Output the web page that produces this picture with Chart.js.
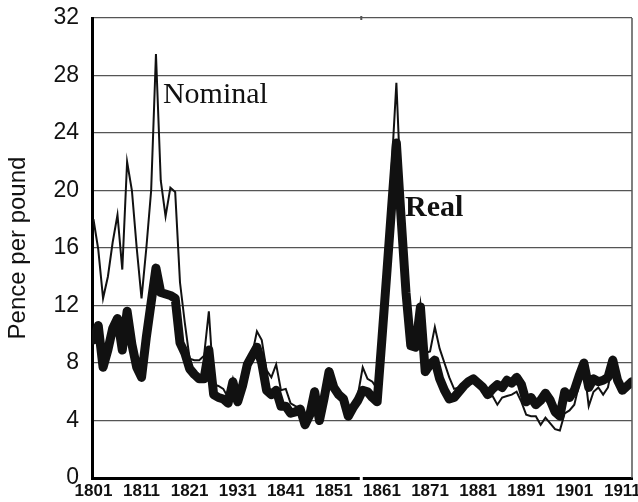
<!DOCTYPE html>
<html>
<head>
<meta charset="utf-8">
<script src="https://cdn.jsdelivr.net/npm/chart.js@4.4.1/dist/chart.umd.min.js"></script>
<style>
  html, body { margin: 0; padding: 0; background: #ffffff; }
  #wrap { width: 638px; height: 502px; position: relative; }
</style>
</head>
<body>
<div id="wrap"><canvas id="c" width="638" height="502"></canvas></div>
<script>
const years = [1801,1802,1803,1804,1805,1806,1807,1808,1809,1810,
1811,1812,1813,1814,1815,1816,1817,1818,1819,1820,
1821,1822,1823,1824,1825,1826,1827,1828,1829,1830,
1831,1832,1833,1834,1835,1836,1837,1838,1839,1840,
1841,1842,1843,1844,1845,1846,1847,1848,1849,1850,
1851,1852,1853,1854,1855,1856,1857,1858,1859,1860,
1861,1862,1863,1864,1865,1866,1867,1868,1869,1870,
1871,1872,1873,1874,1875,1876,1877,1878,1879,1880,
1881,1882,1883,1884,1885,1886,1887,1888,1889,1890,
1891,1892,1893,1894,1895,1896,1897,1898,1899,1900,
1901,1902,1903,1904,1905,1906,1907,1908,1909,1910,
1911,1912,1913];

const realPrice = [9.6,10.6,7.7,8.9,10.4,11.1,8.9,11.6,9.3,7.7,
7.0,9.8,12.2,14.6,12.9,12.8,12.7,12.5,9.4,8.7,
7.6,7.2,6.9,6.9,8.9,5.8,5.6,5.5,5.2,6.7,
5.3,6.4,7.9,8.5,9.1,8.0,6.1,5.8,6.1,5.0,
5.0,4.5,4.6,4.8,3.7,4.4,6.0,4.0,5.6,7.4,
6.3,5.8,5.5,4.3,4.9,5.4,6.1,6.0,5.6,5.3,
9.7,14.2,18.8,23.3,18.0,12.9,9.2,9.1,11.9,7.4,
7.9,8.2,6.9,6.1,5.5,5.6,6.0,6.4,6.7,6.9,
6.6,6.3,5.8,6.2,6.5,6.3,6.8,6.6,7.0,6.5,
5.3,5.6,5.1,5.4,5.9,5.4,4.6,4.3,6.0,5.6,
6.1,7.1,8.0,6.3,6.9,6.7,6.8,7.0,8.2,6.8,
6.1,6.4,6.7];

const nominalPrice = [18.0,15.9,12.5,14.0,16.4,18.3,14.5,22.0,20.0,16.0,
12.5,16.0,20.0,29.5,20.7,18.2,20.2,19.9,13.6,10.8,
8.3,8.2,8.2,8.5,11.6,6.5,6.4,6.2,5.6,6.9,
5.6,6.8,8.3,8.6,10.2,9.6,7.5,7.0,7.9,6.1,
6.2,5.2,5.0,4.9,3.8,4.5,6.0,4.1,5.8,7.4,
6.5,6.0,5.7,4.7,5.0,5.8,7.7,6.9,6.7,6.2,
10.0,15.8,21.5,27.5,19.5,13.5,9.6,9.4,12.1,8.7,
8.8,10.5,9.0,8.0,7.0,6.2,6.3,6.3,6.6,6.9,
6.5,6.2,5.6,5.7,5.1,5.6,5.7,5.8,6.0,5.3,
4.4,4.3,4.3,3.7,4.2,3.8,3.4,3.3,4.5,4.7,
5.1,6.5,7.8,5.0,6.0,6.3,5.8,6.3,8.0,6.6,
6.0,6.3,6.6];

const xTickYears = [1801,1811,1821,1831,1841,1851,1861,1871,1881,1891,1901,1911];
const xTickLabels = ["1801","1811","1821","1931","1841","1851","1861","1871","1881","1891","1901","1911"];
const yTicks = [0,4,8,12,16,20,24,28,32];
const yTitle = "Pence per pound";
const seriesLabels = ["Nominal","Real"];

function pts(vals){ return years.map((y,i)=>({x:y, y:vals[i]})); }

const extras = {
  id: 'extras',
  afterDatasetsDraw(chart){
    const {ctx, chartArea:a, scales:{x, y}} = chart;
    ctx.save();
    // right border
    ctx.strokeStyle = '#555';
    ctx.lineWidth = 1.5;
    ctx.beginPath();
    ctx.moveTo(a.right, a.top);
    ctx.lineTo(a.right, a.bottom);
    ctx.stroke();
    // small break in the bottom axis line and a tick on the top line
    const gx = x.getPixelForValue(1856.7);
    ctx.fillStyle = '#ffffff';
    ctx.fillRect(gx - 1.5, a.bottom - 2, 3, 4);
    ctx.fillStyle = '#555';
    ctx.fillRect(gx - 1, a.top - 2, 2, 4);
    // labels
    ctx.fillStyle = '#111';
    ctx.textBaseline = 'alphabetic';
    ctx.textAlign = 'left';
    ctx.font = '30px "Liberation Serif", "Times New Roman", serif';
    ctx.fillText(seriesLabels[0], x.getPixelForValue(1815.45), y.getPixelForValue(26.1));
    ctx.font = 'bold 30px "Liberation Serif", "Times New Roman", serif';
    ctx.fillText(seriesLabels[1], x.getPixelForValue(1865.8), y.getPixelForValue(18.2));
    ctx.restore();
  }
};

new Chart(document.getElementById('c'), {
  type: 'line',
  data: {
    datasets: [
      {
        label: seriesLabels[1],
        data: pts(realPrice),
        borderColor: '#111',
        borderWidth: 9,
        pointRadius: 0,
        tension: 0,
        borderJoinStyle: 'round',
        borderCapStyle: 'round',
        fill: false
      },
      {
        label: seriesLabels[0],
        data: pts(nominalPrice),
        borderColor: '#111',
        borderWidth: 2,
        pointRadius: 0,
        tension: 0,
        borderJoinStyle: 'miter',
        fill: false
      }
    ]
  },
  options: {
    responsive: false,
    animation: false,
    events: [],
    layout: { padding: { top: 18, right: 6, left: 0, bottom: 0 } },
    plugins: { legend: { display: false }, tooltip: { enabled: false } },
    scales: {
      x: {
        type: 'linear',
        min: 1800.7,
        max: 1913,
        grid: { display: false, drawTicks: false },
        border: { display: true, color: '#000', width: 3 },
        afterBuildTicks: s => { s.ticks = xTickYears.map(v => ({ value: v })); },
        afterFit: s => { s.height = 24; s.paddingLeft = 0; s.paddingRight = 0; },
        ticks: {
          autoSkip: false,
          maxRotation: 0,
          padding: 3,
          color: '#111',
          font: { family: '"Liberation Sans", Arial, sans-serif', size: 17, weight: 'bold' },
          callback: (v, i) => xTickLabels[i]
        }
      },
      y: {
        min: 0,
        max: 32,
        afterBuildTicks: s => { s.ticks = yTicks.map(v => ({ value: v })); },
        afterFit: s => { s.width = 92; s.paddingTop = 0; s.paddingBottom = 0; },
        grid: { color: '#555', lineWidth: 1.2, drawTicks: false },
        border: { display: true, color: '#000', width: 3 },
        ticks: {
          padding: 13,
          color: '#111',
          font: { family: '"Liberation Sans", Arial, sans-serif', size: 23 }
        },
        title: {
          display: true,
          text: yTitle,
          color: '#111',
          padding: { top: 4, bottom: 0 },
          font: { family: '"Liberation Sans", Arial, sans-serif', size: 24 }
        }
      }
    }
  },
  plugins: [extras]
});
</script>
</body>
</html>
